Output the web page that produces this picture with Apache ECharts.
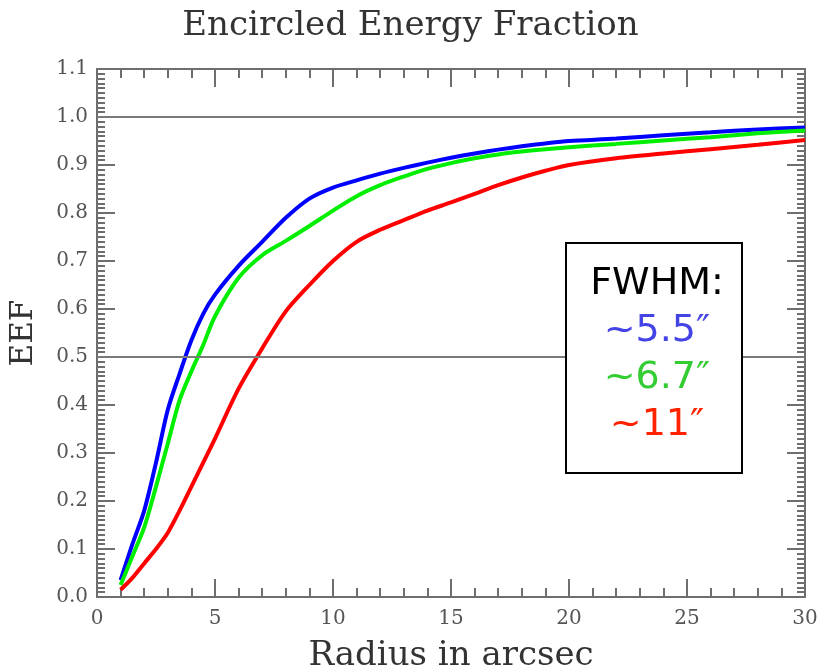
<!DOCTYPE html>
<html>
<head>
<meta charset="utf-8">
<script src="https://cdn.jsdelivr.net/npm/echarts@6/dist/echarts.min.js"></script>
<style>
  html, body { margin: 0; padding: 0; background: #fff; }
  #chart { width: 821px; height: 672px; }
</style>
</head>
<body>
<div id="chart"></div>
<script>
// Aperture radius (arcsec) at which the encircled energy is sampled
const radius = [1, 1.5, 2, 2.5, 3, 3.5, 4, 4.5, 5, 6, 7, 8, 9, 10, 11, 12, 13, 14, 15, 16, 17, 18, 19, 20, 22, 24, 26, 28, 30];

// Encircled energy fraction for three seeing conditions
const eefFwhm55 = [0.035, 0.11, 0.18, 0.28, 0.39, 0.465, 0.535, 0.59, 0.63, 0.69, 0.74, 0.79, 0.83, 0.853, 0.868, 0.882, 0.894, 0.905, 0.915, 0.924, 0.932, 0.939, 0.945, 0.95, 0.955, 0.962, 0.968, 0.974, 0.978];
const eefFwhm67 = [0.025, 0.085, 0.145, 0.23, 0.32, 0.41, 0.47, 0.525, 0.585, 0.665, 0.712, 0.742, 0.773, 0.805, 0.835, 0.858, 0.876, 0.892, 0.904, 0.914, 0.922, 0.928, 0.933, 0.937, 0.944, 0.951, 0.958, 0.966, 0.972];
const eefFwhm11 = [0.015, 0.04, 0.07, 0.1, 0.134, 0.18, 0.23, 0.28, 0.33, 0.434, 0.518, 0.595, 0.65, 0.7, 0.74, 0.765, 0.785, 0.805, 0.822, 0.84, 0.858, 0.874, 0.888, 0.9, 0.914, 0.924, 0.933, 0.942, 0.952];

// Reference levels drawn across the plot
const refLevels = [1.0, 0.5];

// Legend entries
const fwhmLabels = ['~5.5\u2033', '~6.7\u2033', '~11\u2033'];
const fwhmColors = ['#4444e6', '#33cc33', '#ff2200'];
const lineColors = ['#0000ff', '#00ee00', '#ff0000'];

const serif = "'DejaVu Serif', serif";
const axisGray = '#6e6e6e';

function pairs(vals) { return radius.map((r, i) => [r, vals[i]]); }

const tickCommon = {
  axisLine: { show: true, onZero: false, lineStyle: { color: axisGray, width: 2 } },
  axisTick: { show: true, inside: true, length: 18, lineStyle: { color: axisGray, width: 2 } },
  splitLine: { show: false }
};

const chart = echarts.init(document.getElementById('chart'), null, { renderer: 'canvas' });

const lineSeries = [eefFwhm55, eefFwhm67, eefFwhm11].map((vals, i) => ({
  type: 'line',
  data: pairs(vals),
  showSymbol: false,
  smooth: 0.3,
  lineStyle: { color: lineColors[i], width: 4 },
  z: 3
}));

lineSeries[0].markLine = {
  silent: true,
  symbol: 'none',
  label: { show: false },
  lineStyle: { color: '#7a7a7a', width: 2, type: 'solid' },
  data: refLevels.map(v => ({ yAxis: v }))
};

const legendText = [
  { text: 'FWHM:', color: '#000', y: 284 },
  { text: fwhmLabels[0], color: fwhmColors[0], y: 331 },
  { text: fwhmLabels[1], color: fwhmColors[1], y: 378 },
  { text: fwhmLabels[2], color: fwhmColors[2], y: 425 }
];

chart.setOption({
  backgroundColor: '#fff',
  animation: false,
  title: {
    text: 'Encircled Energy Fraction',
    left: 'center',
    top: 4,
    textStyle: { fontFamily: serif, fontWeight: 'normal', fontSize: 34, color: '#333' }
  },
  grid: { left: 97, right: 16, top: 69, bottom: 75, containLabel: false, outerBoundsMode: 'none' },
  xAxis: [
    Object.assign({}, tickCommon, {
      type: 'value', position: 'bottom', min: 0, max: 30, interval: 5,
      minorTick: { show: true, splitNumber: 5, length: 9, lineStyle: { color: axisGray, width: 2 } },
      axisLabel: { fontFamily: serif, fontSize: 20, color: '#555', margin: 12 },
      name: 'Radius in arcsec', nameLocation: 'middle', nameGap: 42,
      nameTextStyle: { fontFamily: serif, fontSize: 34, color: '#333' }
    }),
    Object.assign({}, tickCommon, {
      type: 'value', position: 'top', min: 0, max: 30, interval: 5,
      minorTick: { show: true, splitNumber: 5, length: 9, lineStyle: { color: axisGray, width: 2 } },
      axisLabel: { show: false }
    })
  ],
  yAxis: [
    Object.assign({}, tickCommon, {
      type: 'value', position: 'left', min: 0, max: 1.1, interval: 0.1,
      minorTick: { show: true, splitNumber: 10, length: 8, lineStyle: { color: axisGray, width: 2 } },
      axisLabel: { fontFamily: serif, fontSize: 20, color: '#555', margin: 9, formatter: v => v.toFixed(1) },
      name: 'EEF', nameLocation: 'middle', nameGap: 58, nameRotate: 90,
      nameTextStyle: { fontFamily: serif, fontSize: 31, color: '#333' }
    }),
    Object.assign({}, tickCommon, {
      type: 'value', position: 'right', min: 0, max: 1.1, interval: 0.1,
      minorTick: { show: true, splitNumber: 10, length: 8, lineStyle: { color: axisGray, width: 2 } },
      axisLabel: { show: false }
    })
  ],
  series: lineSeries,
  graphic: [
    {
      type: 'rect', left: 565, top: 242, z: 10,
      shape: { width: 176, height: 230 },
      style: { fill: '#fff', stroke: '#000', lineWidth: 2 }
    }
  ].concat(legendText.map(t => ({
    type: 'text', z: 11,
    x: 657, y: t.y,
    style: {
      text: t.text, fill: t.color,
      font: "38px 'DejaVu Sans', Verdana, sans-serif",
      align: 'center', verticalAlign: 'middle'
    }
  })))
});
</script>
</body>
</html>
